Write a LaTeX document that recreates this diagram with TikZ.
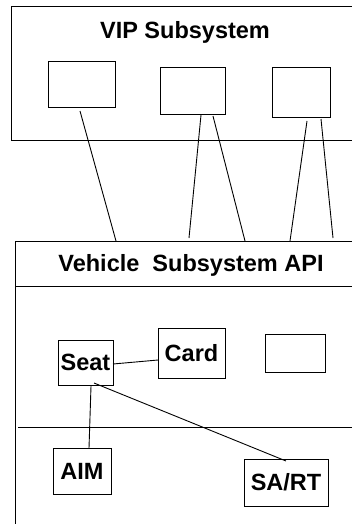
\documentclass[tikz,border=0pt]{standalone}
\usepackage{fontspec}
\setmainfont{Liberation Sans}
\begin{document}
\begin{tikzpicture}[x=1pt,y=-1pt,
  every path/.style={line width=0.9pt},
  box/.style={draw,line width=0.9pt,rectangle,inner sep=0pt,outer sep=0pt,
    font=\bfseries\fontsize{23.5}{28}\selectfont},
  lbl/.style={inner sep=0pt,outer sep=0pt,anchor=base,
    font=\bfseries\fontsize{23.5}{28}\selectfont},
  conn/.style={draw,line width=0.9pt}]
\useasboundingbox (0,0) rectangle (351,524);
% VIP subsystem
\node[box,minimum width=369pt,minimum height=134pt] (vip) at (195.5,73) {};
\node[lbl] (viptext) at (185,39) {VIP Subsystem};
\node[box,minimum width=67pt,minimum height=46pt] (v1) at (81.5,84) {};
\node[box,minimum width=65pt,minimum height=47pt] (v2) at (192.5,90.5) {};
\node[box,minimum width=58pt,minimum height=50pt] (v3) at (301,92) {};
% Vehicle subsystem
\node[box,minimum width=365pt,minimum height=299pt] (veh) at (197.5,390.5) {};
\node[box,minimum width=365pt,minimum height=45pt] (api) at (197.5,263.5) {};
\node[lbl] (apitext) at (191,271.7) {Vehicle\ \ Subsystem API};
\coordinate (divl) at (18,427);
\coordinate (divr) at (400,427);
\draw (divl) -- (divr);
\node[box,minimum width=55pt,minimum height=45pt] (seat) at (85.5,362.5) {Seat};
\node[box,minimum width=67pt,minimum height=50pt] (card) at (191.5,353) {Card};
\node[box,minimum width=60pt,minimum height=38pt] (empty) at (295,353) {};
\node[box,minimum width=58pt,minimum height=46pt] (aim) at (82,471) {AIM};
\node[box,minimum width=84pt,minimum height=47pt] (sart) at (286,482.5) {SA/RT};
% connectors
\draw[conn] ([shift={(-1.5,4)}]v1.south) -- ([shift={(101,0)}]api.north west);
\draw[conn] ([shift={(8.5,1)}]v2.south) -- ([shift={(174,-3)}]api.north west);
\draw[conn] ([shift={(20.5,2)}]v2.south) -- ([shift={(230,0)}]api.north west);
\draw[conn] ([shift={(6,4)}]v3.south) -- ([shift={(275,0)}]api.north west);
\draw[conn] ([shift={(20,2)}]v3.south) -- ([shift={(318,-3)}]api.north west);
\draw[conn] ([shift={(0,1.5)}]seat.east) -- ([shift={(0,7)}]card.west);
\draw[conn] ([shift={(5.5,1)}]seat.south) -- ([shift={(7,0)}]aim.north);
\draw[conn] ([shift={(8.5,-2)}]seat.south) -- ([shift={(0,2)}]sart.north);
\end{tikzpicture}
\end{document}
